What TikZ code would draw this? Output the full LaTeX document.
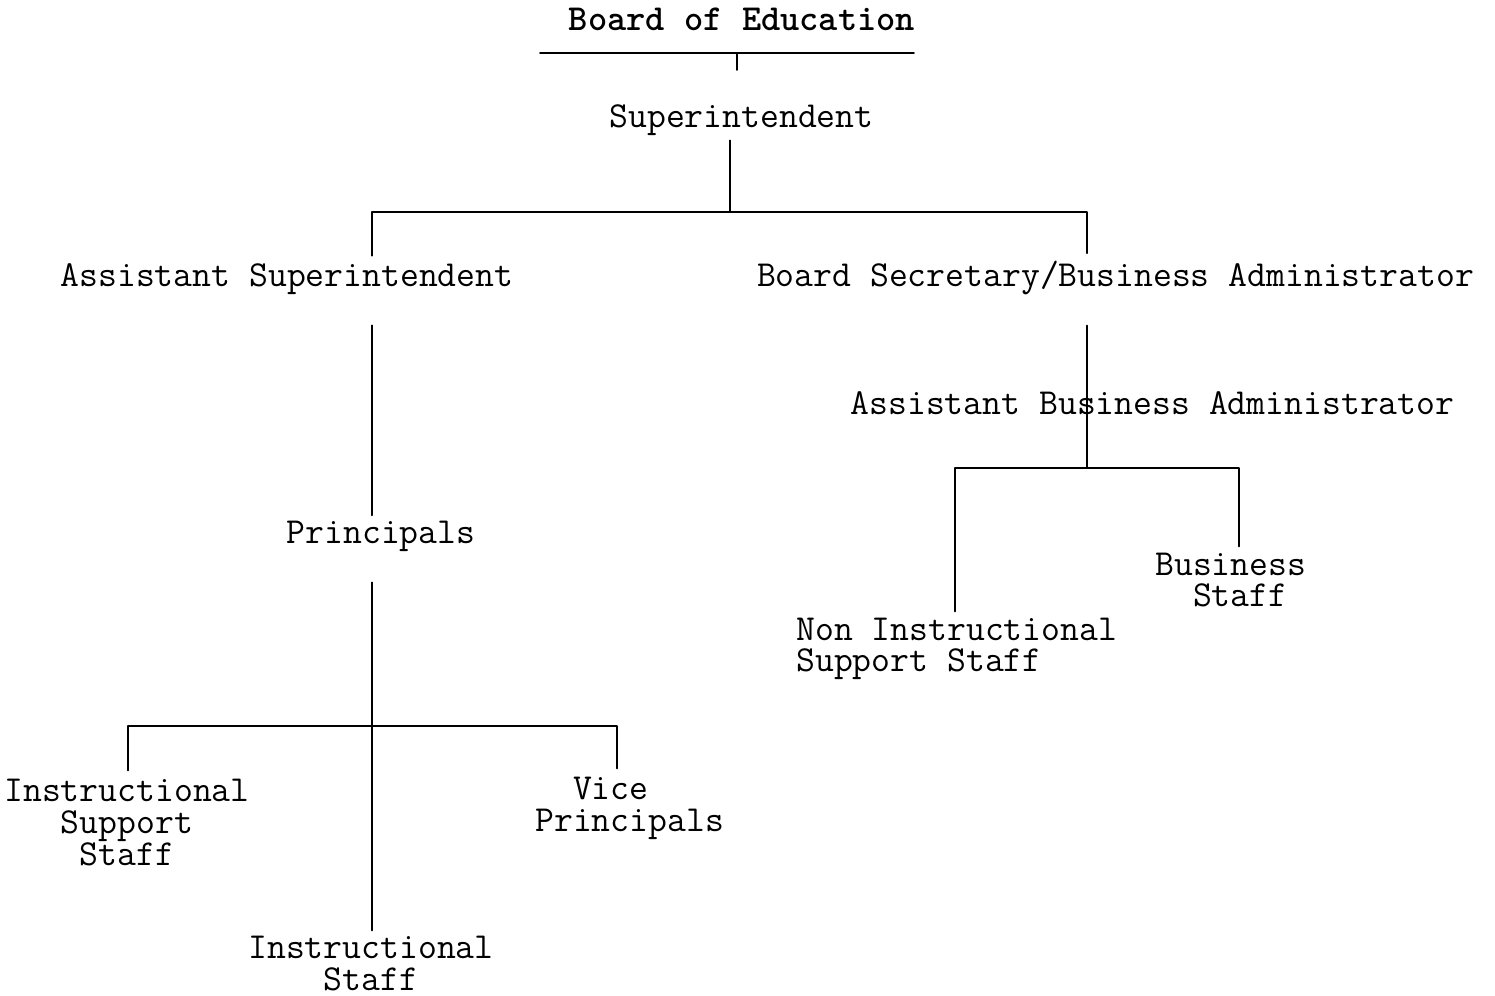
\documentclass[tikz,border=0pt]{standalone}
\usepackage{fontspec}
\begin{document}
\begin{tikzpicture}[x=0.02cm, y=-0.02cm, line join=round, line cap=round,
	lbl/.style={inner sep=0pt, font=\ttfamily\fontsize{20.85}{18.15}\selectfont},
	link/.style={line width=1.1pt}]
	\useasboundingbox (0,0) rectangle (1495,996);
	% names
	\node[lbl, anchor=base] (boe) at (742,31) {\bfseries Board of Education};
	\node[lbl, anchor=base] (sup) at (741.5,128) {Superintendent};
	\node[lbl, anchor=base] (as) at (287,287) {Assistant Superintendent};
	\node[lbl, anchor=base] (bs) at (1115.5,287) {Board Secretary/Business Administrator};
	\node[lbl, anchor=base] (abs) at (1152.5,415) {Assistant Business Administrator};
	\node[lbl, anchor=base] (pr) at (381,544) {Principals};
	\node[lbl, anchor=base west, align=left] (nis) at (796,672) {Non Instructional\\Support Staff};
	\node[lbl, anchor=base west, align=left] (bst) at (1155,607) {Business\\\hphantom{xx}Staff};
	\node[lbl, anchor=base, align=center] (iss) at (127,865) {Instructional\\Support\\Staff};
	\node[lbl, anchor=base west, align=left] (vp) at (535,831) {\hphantom{xx}Vice\\Principals};
	\node[lbl, anchor=base, align=center] (ist) at (371,990) {Instructional\\Staff};
	% junctions
	\coordinate (ul) at (540,53); \coordinate (ur) at (914,53);
	\coordinate (tk) at (737,53); \coordinate (tkb) at (737,70);
	\coordinate (sj) at (730,212);
	\coordinate (asj) at (372,212); \coordinate (bsj) at (1087,212);
	\coordinate (pj) at (372,726);
	\coordinate (il) at (128,726); \coordinate (vl) at (617,726);
	\coordinate (aj) at (1087,468);
	\coordinate (nl) at (955,468); \coordinate (br) at (1239,468);
	% lines
	\draw[line width=0.9pt] (ul)--(ur);
	\draw[link] (tk)--(tkb);
	\draw[link, shorten <=0.08cm] (sj |- sup.south)--(sj);
	\draw[link, shorten <=0.16cm, shorten >=0.16cm] (asj |- as.north)--(asj)--(bsj)--(bsj |- bs.north);
	\draw[link, shorten <=0.6cm, shorten >=0.12cm] (asj |- as.south)--(asj |- pr.north);
	\draw[link, shorten <=0.6cm, shorten >=0.1cm] (pj |- pr.south)--(pj |- ist.north);
	\draw[link, shorten <=0.16cm, shorten >=0.16cm] (il |- iss.north)--(il)--(vl)--(vl |- vp.north);
	\draw[link, shorten <=0.6cm] (aj |- bs.south)--(aj);
	\draw[link, shorten <=0.12cm, shorten >=0.12cm] (nl |- nis.north)--(nl)--(br)--(br |- bst.north);
\end{tikzpicture}
\end{document}
